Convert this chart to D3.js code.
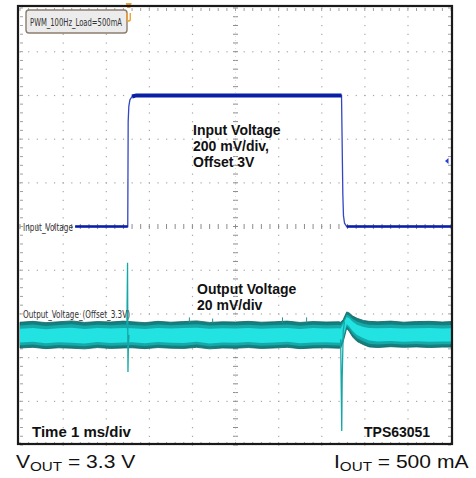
<!DOCTYPE html>
<html>
<head>
<meta charset="utf-8">
<script src="https://cdn.jsdelivr.net/npm/d3@7"></script>
<style>
body { margin: 0; background: #fff; }
svg { display: block; font-family: "Liberation Sans", Arial, sans-serif; }
</style>
</head>
<body>
<div id="chart"></div>
<script>
// scope capture, 10 x 10 divisions
const timeDomain = [0, 10];          // ms, 1 ms/div
const divDomain = [-5, 5];           // vertical divisions

// input voltage (ch1) : 200 mV/div, offset 3 V
const inOffset = 3.0, inScale = 0.2;
const inTime = [1.28, 2.50, 2.51, 2.525, 2.55, 2.60, 2.70, 7.46, 7.47, 7.49, 7.505, 7.53, 7.58, 10];
const inVolt = [3.0, 3.0, 3.48, 3.55, 3.58, 3.595, 3.6, 3.6, 3.45, 3.15, 3.05, 3.015, 3.0, 3.0];
const trigTime = 2.5, trigLevel = 3.3;

// output voltage (ch2) : 20 mV/div, offset 3.3 V, shown in mV around 3.3 V
const outScale = 20, outPos = -2.48;
const outT = [0, 0.3, 0.6, 0.9, 1.2, 1.5, 1.8, 2.1, 2.4,
  2.6, 2.9, 3.2, 3.5, 3.8, 4.1, 4.4, 4.7, 5.0,
  5.3, 5.6, 5.9, 6.2, 6.5, 6.8, 7.1, 7.4,
  7.44, 7.5, 7.58, 7.64, 7.72, 7.82, 7.97,
  8.1, 8.3, 8.6, 8.9, 9.2, 9.5, 9.8, 10];
const outHiOuter = [5.8, 6.2, 5.6, 6.0, 6.4, 5.7, 6.1, 5.9, 6.3,
  6.0, 5.6, 6.2, 5.8, 6.1, 6.4, 5.7, 6.0, 5.9,
  6.2, 5.8, 6.0, 6.3, 5.7, 6.1, 5.9, 6.0,
  5.8, 7.0, 10.5, 10.0, 8.6, 7.6, 6.6,
  6.2, 6.0, 6.3, 5.8, 6.1, 6.2, 5.9, 6.1];
const outLoOuter = [-6.0, -5.7, -6.3, -5.9, -6.1, -6.4, -5.8, -6.2, -6.0,
  -5.9, -6.3, -5.8, -6.1, -6.2, -5.7, -6.4, -6.0, -6.1,
  -5.8, -6.2, -6.0, -5.7, -6.3, -6.0, -5.9, -6.1,
  -6.0, -3.0, 3.0, 1.5, -1.0, -3.0, -4.5,
  -5.5, -5.8, -5.4, -5.7, -5.5, -5.8, -5.6, -5.6];
const outHiInner = [2.8, 3.2, 2.6, 3.0, 3.3, 2.7, 3.1, 2.9, 3.2,
  3.0, 2.7, 3.2, 2.9, 3.1, 3.3, 2.8, 3.0, 2.9,
  3.1, 2.8, 3.0, 3.2, 2.7, 3.1, 2.9, 3.0,
  2.9, 5.0, 8.2, 7.6, 6.0, 4.6, 3.6,
  3.1, 3.0, 3.2, 2.9, 3.0, 3.1, 2.9, 3.0];
const outLoInner = [-3.5, -3.2, -3.8, -3.4, -3.6, -3.9, -3.3, -3.7, -3.5,
  -3.4, -3.8, -3.3, -3.6, -3.7, -3.2, -3.9, -3.5, -3.6,
  -3.3, -3.7, -3.5, -3.2, -3.8, -3.5, -3.4, -3.6,
  -3.5, -1.0, 5.0, 3.8, 1.8, 0.0, -1.6,
  -2.6, -3.0, -2.8, -3.1, -2.9, -3.2, -3.0, -3.0];
// load-step spikes on the output
const spikeRiseT = [2.48, 2.495, 2.505, 2.515, 2.53];
const spikeRiseV = [3, 33, -17, -4, 0];
const spikeFallT = [7.44, 7.465, 7.475, 7.50, 7.53];
const spikeFallV = [-2, -44, -20, 2, 6];
const glitchT = [3.93, 4.47, 6.09, 6.65];
const glitchV = [8.0, 7.5, 8.0, 8.0];

const W = 476, H = 478;
const svg = d3.select('#chart').append('svg')
	.attr('width', W)
	.attr('height', H)
	.attr('viewBox', `0 0 ${W} ${H}`);

const x = d3.scaleLinear().domain(timeDomain).range([20, 451]);
const y = d3.scaleLinear().domain(divDomain).range([445, 8]);

// plot background
svg.append('rect')
	.attr('x', 18).attr('y', 6).attr('width', 434).attr('height', 438)
	.attr('fill', '#fff');

// graticule
const grid = svg.append('g');
const minorX = d3.range(0, 51).map(i => i / 5);
const minorY = d3.range(-25, 26).map(i => i / 5);
const dot = (px, py) => grid.append('rect')
	.attr('x', px - 0.5).attr('y', py - 0.5)
	.attr('width', 1.2).attr('height', 1.2)
	.attr('fill', '#a6a6a6');

d3.range(1, 10).filter(i => i !== 5).forEach(i => {
	minorY.forEach(d => dot(x(i), y(d)));
});
d3.range(-4, 5).filter(j => j !== 0).forEach(j => {
	minorX.forEach(d => dot(x(d), y(j)));
});
// center axes with small ticks
grid.selectAll('.cx').data(minorY).enter().append('line')
	.attr('x1', x(5) - 2.5).attr('x2', x(5) + 2.5)
	.attr('y1', d => y(d)).attr('y2', d => y(d))
	.attr('stroke', '#8c8c8c').attr('stroke-width', 1);
grid.selectAll('.cy').data(minorX).enter().append('line')
	.attr('y1', y(0) - 2.5).attr('y2', y(0) + 2.5)
	.attr('x1', d => x(d)).attr('x2', d => x(d))
	.attr('stroke', '#8c8c8c').attr('stroke-width', 1);
grid.append('line')
	.attr('x1', x(5)).attr('x2', x(5)).attr('y1', y(5)).attr('y2', y(-5))
	.attr('stroke', '#c4c4c4').attr('stroke-width', 0.6).attr('stroke-dasharray', '1,3');
// edge ticks
[[0, 1], [10, -1]].forEach(([v, s]) => {
	grid.selectAll(null).data(minorY).enter().append('line')
		.attr('x1', x(v)).attr('x2', x(v) + s * 3)
		.attr('y1', d => y(d)).attr('y2', d => y(d))
		.attr('stroke', '#a0a0a0');
});
[[5, 1], [-5, -1]].forEach(([v, s]) => {
	grid.selectAll(null).data(minorX).enter().append('line')
		.attr('y1', y(v)).attr('y2', y(v) + s * 3)
		.attr('x1', d => x(d)).attr('x2', d => x(d))
		.attr('stroke', '#a0a0a0');
});

// output voltage band
const outData = outT.map((t, i) => ({
	t, ho: outHiOuter[i], lo: outLoOuter[i], hi: outHiInner[i], li: outLoInner[i]
}));
const oy = mv => y(outPos + mv / outScale);
const outG = svg.append('g');
outG.append('path')
	.datum(outData)
	.attr('d', d3.area().curve(d3.curveLinear).x(d => x(d.t)).y0(d => oy(d.lo)).y1(d => oy(d.ho)))
	.attr('fill', '#13807f')
	.attr('stroke', '#0e6262')
	.attr('stroke-width', 0.8);
outG.append('path')
	.datum(outData)
	.attr('d', d3.area().curve(d3.curveLinear)
		.x(d => x(d.t))
		.y0(d => oy((d.lo + d.li) / 2))
		.y1(d => oy((d.ho + d.hi) / 2)))
	.attr('fill', '#15a9a9');
outG.append('path')
	.datum(outData)
	.attr('d', d3.area().curve(d3.curveLinear).x(d => x(d.t)).y0(d => oy(d.li)).y1(d => oy(d.hi)))
	.attr('fill', '#22e2e2');

outG.selectAll('.glitch').data(glitchT).enter().append('line')
	.attr('x1', d => x(d)).attr('x2', d => x(d))
	.attr('y1', oy(5.5)).attr('y2', (d, i) => oy(glitchV[i]))
	.attr('stroke', '#2a9090').attr('stroke-width', 1);

const spikeLine = d3.line().x(d => x(d[0])).y(d => oy(d[1]));
[[spikeRiseT, spikeRiseV], [spikeFallT, spikeFallV]].forEach(([ts, vs]) => {
	outG.append('path')
		.datum(ts.map((t, i) => [t, vs[i]]))
		.attr('d', spikeLine)
		.attr('fill', 'none')
		.attr('stroke', '#16a6a6')
		.attr('stroke-width', 1.3);
});

// input voltage trace
const inData = inTime.map((t, i) => ({ t, v: inVolt[i] }));
const iy = v => y((v - inOffset) / inScale);
const inG = svg.append('g');
inG.append('path')
	.datum(inData)
	.attr('d', d3.line().x(d => x(d.t)).y(d => iy(d.v)))
	.attr('fill', 'none').attr('stroke', '#3347c4').attr('stroke-width', 1.3);
inG.append('path')
	.datum(inData)
	.attr('d', d3.line().defined(d => d.v >= 3.59).x(d => x(d.t)).y(d => iy(d.v)))
	.attr('fill', 'none').attr('stroke', '#0a1ea6').attr('stroke-width', 4);
inG.append('path')
	.datum(inData)
	.attr('d', d3.line().defined(d => d.v <= 3.0).x(d => x(d.t)).y(d => iy(d.v)))
	.attr('fill', 'none').attr('stroke', '#0a1ea6').attr('stroke-width', 2.5);

// trigger level marker (right edge)
const ty = iy(trigLevel);
svg.append('path')
	.attr('d', `M${x(10) - 6},${ty} L${x(10) - 2.5},${ty - 3} L${x(10) - 2.5},${ty + 3} Z`)
	.attr('fill', '#2b3fd0');

// channel labels
const narrow = '"Liberation Sans Narrow", "DejaVu Sans Condensed", "Arial Narrow", sans-serif';
svg.append('text')
	.attr('x', 23).attr('y', 230.5)
	.attr('font-family', narrow).attr('font-size', 10)
	.attr('textLength', 50).attr('lengthAdjust', 'spacingAndGlyphs')
	.attr('fill', '#333')
	.text('Input_Voltage');
svg.append('text')
	.attr('x', 23).attr('y', 318)
	.attr('font-family', narrow).attr('font-size', 10)
	.attr('textLength', 107).attr('lengthAdjust', 'spacingAndGlyphs')
	.attr('fill', '#333')
	.text('Output_Voltage_(Offset_3.3V)');

// note box
svg.append('rect')
	.attr('x', 26).attr('y', 10).attr('width', 101).attr('height', 23).attr('rx', 3)
	.attr('fill', '#ececec').attr('stroke', '#8d7d6d').attr('stroke-width', 1.4);
svg.append('text')
	.attr('x', 30).attr('y', 26)
	.attr('font-family', narrow).attr('font-size', 11)
	.attr('textLength', 92).attr('lengthAdjust', 'spacingAndGlyphs')
	.attr('fill', '#333')
	.text('PWM_100Hz_Load=500mA');

// trigger time marker (top)
const tx = x(trigTime) + 1;
svg.append('path')
	.attr('d', `M${tx - 3},3 L${tx + 3},3 L${tx + 1.5},8 L${tx - 1.5},8 Z`)
	.attr('fill', '#f0a030');
svg.append('path')
	.attr('d', `M${tx - 1.5},13 L${tx - 1.5},20 Q${tx},22 ${tx + 1.5},20 L${tx + 1.5},13`)
	.attr('fill', 'none').attr('stroke', '#f0a030').attr('stroke-width', 1.4);

// annotations
const bold = (tx0, ty0, txt, size) => svg.append('text')
	.attr('x', tx0).attr('y', ty0)
	.attr('font-weight', 'bold').attr('font-size', size || 14)
	.attr('fill', '#111')
	.text(txt);
bold(193, 135, 'Input Voltage');
bold(193, 151, '200 mV/div,');
bold(193, 167, 'Offset 3V');
bold(197, 294, 'Output Voltage');
bold(197, 310, '20 mV/div');
bold(32, 437, 'Time 1 ms/div', 15);
bold(364, 437, 'TPS63051', 14);

// frame
svg.append('rect')
	.attr('x', 18).attr('y', 6).attr('width', 434).attr('height', 438)
	.attr('fill', 'none').attr('stroke', '#1a1a1a').attr('stroke-width', 2.2);

// conditions below the frame
const cond = (cx, lead, rest) => {
	const t = svg.append('g')
		.attr('transform', `translate(${cx},468) scale(1.17,1)`)
		.append('text')
		.attr('font-size', 18).attr('fill', '#111');
	t.append('tspan').text(lead);
	t.append('tspan').attr('font-size', 13).attr('dy', 3).text('OUT');
	t.append('tspan').attr('dy', -3).text(rest);
};
cond(16, 'V', ' = 3.3 V');
cond(334, 'I', ' = 500 mA');
</script>
</body>
</html>
